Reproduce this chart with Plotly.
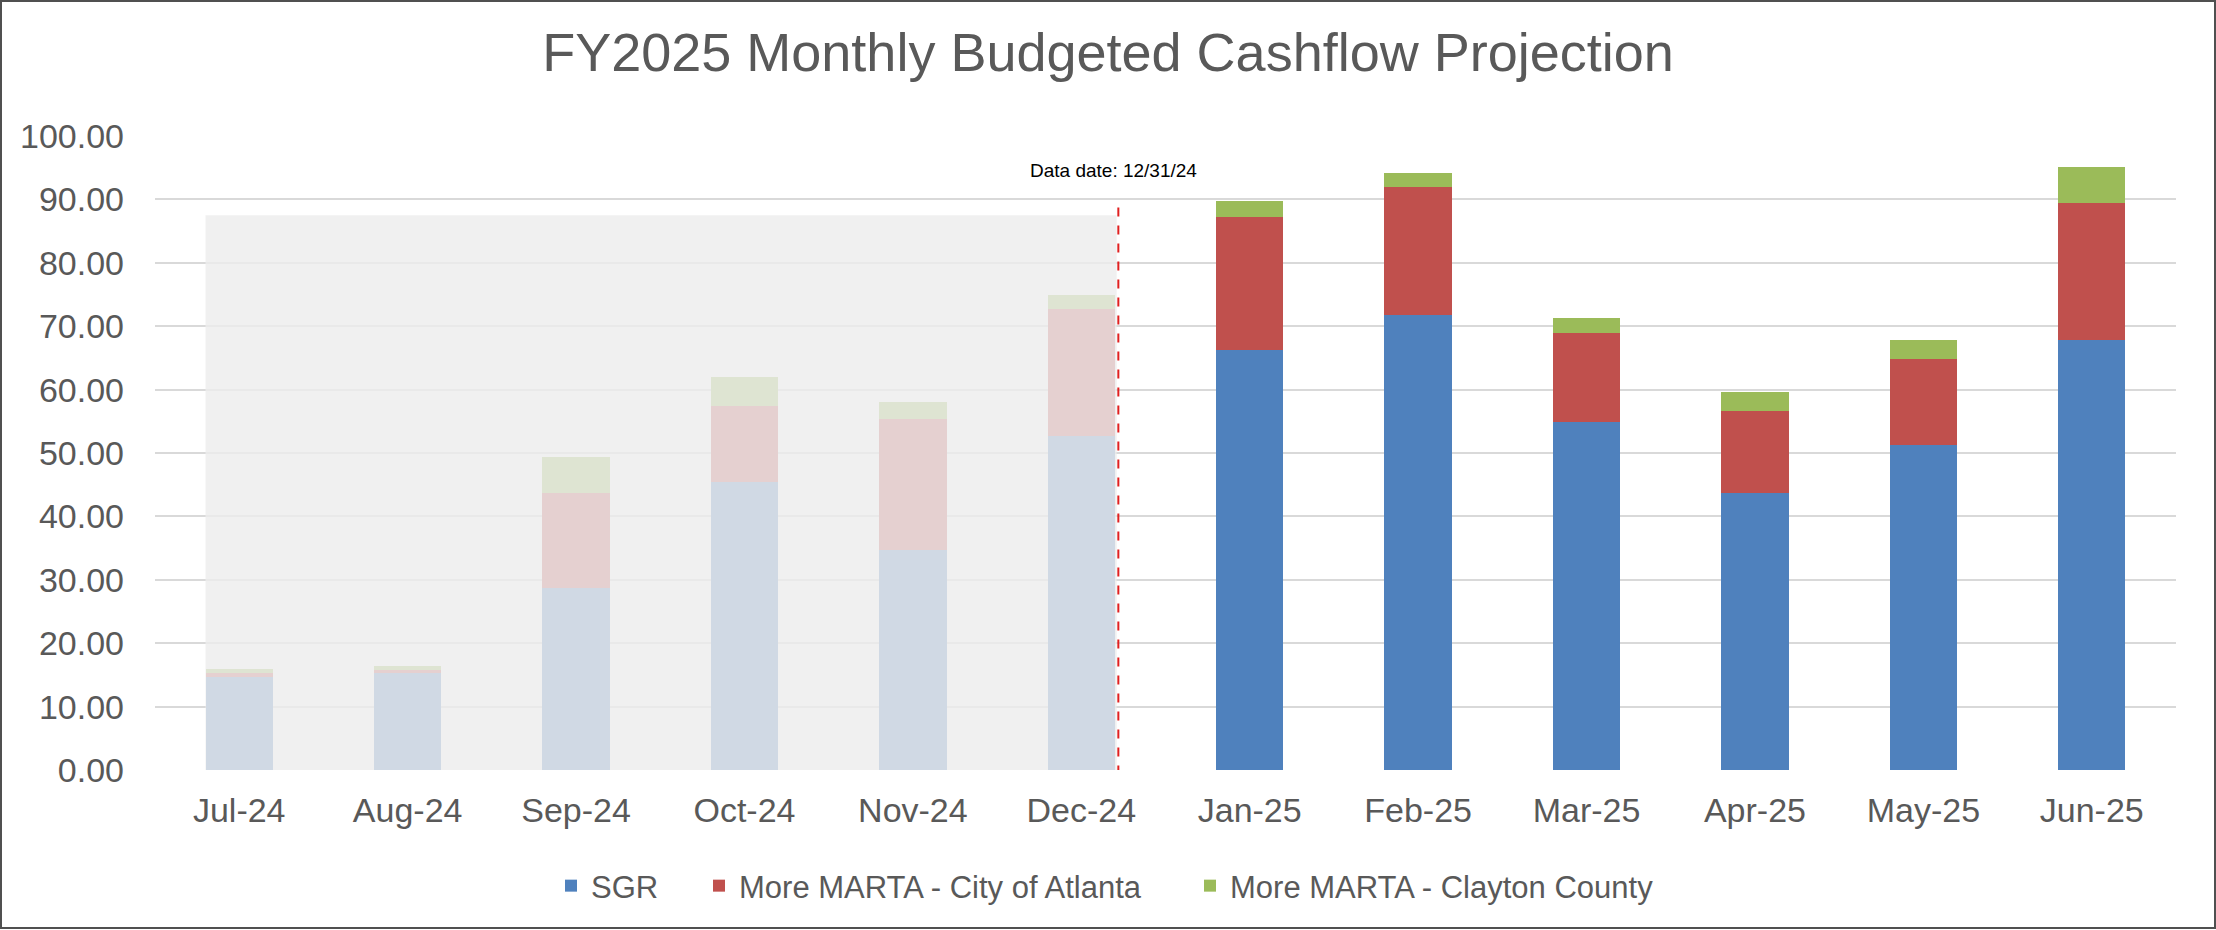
import plotly.graph_objects as go

months = ["Jul-24", "Aug-24", "Sep-24", "Oct-24", "Nov-24", "Dec-24",
          "Jan-25", "Feb-25", "Mar-25", "Apr-25", "May-25", "Jun-25"]
sgr = [14.7, 15.3, 28.7, 45.4, 34.7, 52.7, 66.3, 71.7, 54.9, 43.7, 51.2, 67.9]
atlanta = [0.6, 0.5, 15.0, 12.0, 20.6, 20.0, 20.9, 20.2, 14.0, 12.9, 13.6, 21.5]
clayton = [0.6, 0.6, 5.6, 4.6, 2.8, 2.2, 2.5, 2.3, 2.4, 3.1, 3.1, 5.7]
series_names = ["SGR", "More MARTA - City of Atlanta", "More MARTA - Clayton County"]
series_colors = ["#4F81BD", "#C0504D", "#9BBB59"]

data_date_label = "Data date: 12/31/24"
actuals_end_index = 5  # Dec-24 is last actual month
shade_top = 87.5
line_top = 90

FONT = "Liberation Sans, Arial, sans-serif"
GREY = "#595959"

W, H = 2216, 930
ml, mr, mt, mb = 155, 40, 136, 160
pw, ph = W - ml - mr, H - mt - mb

legend_ids = ["legend", "legend2", "legend3"]
legend_sym_x = [572, 720, 1211]

fig = go.Figure()
for name, vals, col, lid in zip(series_names, [sgr, atlanta, clayton], series_colors, legend_ids):
    fig.add_trace(go.Bar(x=months, y=vals, name=name, legend=lid,
                         marker=dict(color=col, line=dict(width=0))))

shapes = [
    dict(type="rect", xref="x", yref="y", x0=-0.2, x1=actuals_end_index + 0.21,
         y0=-1.9, y1=shade_top, fillcolor="#EDEDED", opacity=0.82,
         line=dict(width=0), layer="above"),
    dict(type="line", xref="x", yref="y", x0=actuals_end_index + 0.22, x1=actuals_end_index + 0.22,
         y0=-0.7, y1=line_top, line=dict(color="#E02020", width=2, dash="dash"), layer="above"),
    dict(type="rect", xref="paper", yref="paper",
         x0=(1 - ml) / pw, x1=(W - 1 - ml) / pw,
         y0=(H - mb - (H - 2)) / ph, y1=(H - mb - 1) / ph,
         line=dict(color="#505050", width=2), fillcolor="rgba(0,0,0,0)", layer="above"),
]

legend_common = dict(orientation="h", xref="container", yref="container",
                     xanchor="left", y=1 - 886 / H, yanchor="middle",
                     font=dict(family=FONT, size=31, color=GREY), itemwidth=30,
                     bgcolor="rgba(0,0,0,0)")
legends = {}
for lid, sx in zip(legend_ids, legend_sym_x):
    legends[lid] = dict(legend_common, x=(sx - 21) / W)

fig.update_layout(
    template="none",
    width=W, height=H,
    margin=dict(l=ml, r=mr, t=mt, b=mb, autoexpand=False),
    paper_bgcolor="white", plot_bgcolor="white",
    barmode="stack", bargap=0.6,
    font=dict(family=FONT, color=GREY, size=34),
    title=dict(text="FY2025 Monthly Budgeted Cashflow Projection",
               x=0.5, xref="container", xanchor="center",
               y=1 - 52 / H, yref="container", yanchor="middle",
               font=dict(family=FONT, size=54, color=GREY)),
    xaxis=dict(type="category", range=[-0.5, 11.5], showgrid=False, showline=False,
               ticks="", tickfont=dict(size=34, color=GREY), ticklabelstandoff=17,
               zeroline=False, automargin=False),
    yaxis=dict(range=[0, 100], dtick=10, tickformat=".2f", showgrid=True,
               gridcolor="#D9D9D9", gridwidth=2, zeroline=False, showline=False,
               ticks="", tickfont=dict(size=34, color=GREY), ticklabelstandoff=30,
               automargin=False),
    shapes=shapes,
    annotations=[dict(text=data_date_label, x=actuals_end_index + 0.19, y=94.6,
                      xref="x", yref="y", showarrow=False, xanchor="center", yanchor="middle",
                      font=dict(family=FONT, size=19, color="#000000"))],
    showlegend=True,
    **legends,
)

fig.write_html("out.html", config={"displayModeBar": False},
               post_script="document.body.style.margin='0';")
